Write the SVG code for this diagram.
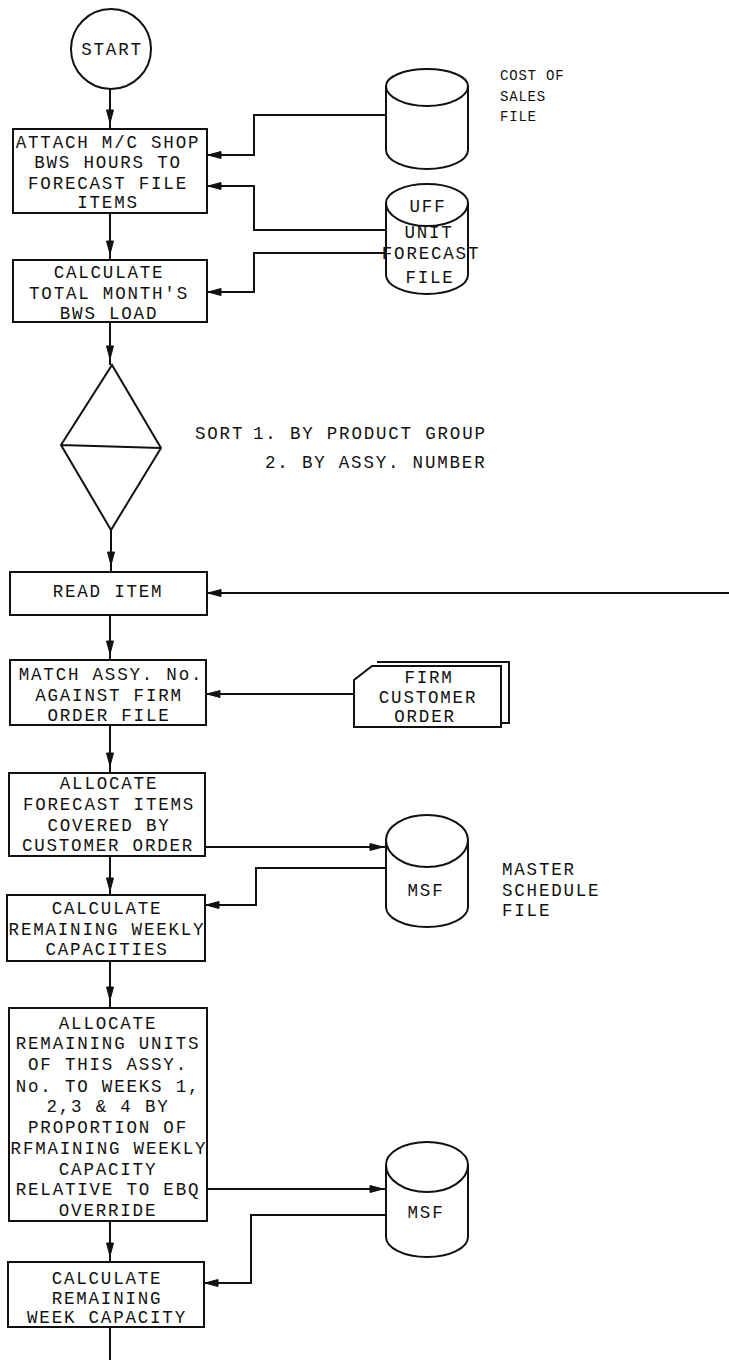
<svg xmlns="http://www.w3.org/2000/svg" width="729" height="1360" viewBox="0 0 729 1360">
<style>
.n{fill:none;stroke:#111;stroke-width:2}
.c{fill:none;stroke:#111;stroke-width:2}
.t{font-family:"Liberation Mono","DejaVu Sans Mono",monospace;font-size:17.5px;letter-spacing:1.8px;fill:#111;text-anchor:middle}
.l{font-family:"Liberation Mono","DejaVu Sans Mono",monospace;font-size:17.5px;letter-spacing:1.8px;fill:#111}
.s{font-family:"Liberation Mono","DejaVu Sans Mono",monospace;font-size:14px;letter-spacing:0.8px;fill:#111}
.a{fill:#111;stroke:#111;stroke-width:1}
</style>
<defs>
<path id="aD" d="M0,0 L-3.5,-13 L3.5,-13 Z"/>
<path id="aL" d="M0,0 L13,-3.5 L13,3.5 Z"/>
<path id="aR" d="M0,0 L-13,-3.5 L-13,3.5 Z"/>
</defs>
<rect width="729" height="1360" fill="#fff"/>

<g id="connectors">
<path class="c" d="M110,89 V129"/>
<path class="c" d="M110,213 V260"/>
<path class="c" d="M110,322 V365"/>
<path class="c" d="M111,530 V572"/>
<path class="c" d="M110,615 V660"/>
<path class="c" d="M110,725 V773"/>
<path class="c" d="M110,856 V895"/>
<path class="c" d="M110,961 V1008"/>
<path class="c" d="M110,1221 V1262"/>
<path class="c" d="M110,1327 V1360"/>
<path class="c" d="M386,115 H254 V155 H207"/>
<path class="c" d="M386,230 H254 V186 H207"/>
<path class="c" d="M386,253 H254 V292 H207"/>
<path class="c" d="M729,593 H207"/>
<path class="c" d="M354,694 H206"/>
<path class="c" d="M205,847 H386"/>
<path class="c" d="M386,868 H256 V905 H205"/>
<path class="c" d="M207,1189 H386"/>
<path class="c" d="M386,1215 H251 V1283 H204"/>
<g class="a">
<use href="#aD" x="110" y="123"/>
<use href="#aD" x="110" y="254"/>
<use href="#aD" x="110" y="359"/>
<use href="#aD" x="111" y="565"/>
<use href="#aD" x="110" y="654"/>
<use href="#aD" x="110" y="766"/>
<use href="#aD" x="110" y="891"/>
<use href="#aD" x="110" y="1000"/>
<use href="#aD" x="110" y="1256"/>
<use href="#aL" x="208" y="155"/>
<use href="#aL" x="208" y="186"/>
<use href="#aL" x="208" y="292"/>
<use href="#aL" x="208" y="593"/>
<use href="#aL" x="207" y="694"/>
<use href="#aR" x="383" y="847"/>
<use href="#aL" x="206" y="905"/>
<use href="#aR" x="383" y="1189"/>
<use href="#aL" x="205" y="1283"/>
</g>
</g>

<g id="start">
<circle class="n" cx="111" cy="49" r="40"/>
<text class="t" x="112" y="55">START</text>
</g>

<g id="attach">
<rect class="n" x="13" y="129" width="194" height="84"/>
<text class="t" x="108" y="148">ATTACH M/C SHOP</text>
<text class="t" x="108" y="168">BWS HOURS TO</text>
<text class="t" x="108" y="189">FORECAST FILE</text>
<text class="t" x="108" y="208">ITEMS</text>
</g>

<g id="calc-load">
<rect class="n" x="13" y="260" width="194" height="62"/>
<text class="t" x="109" y="278">CALCULATE</text>
<text class="t" x="109" y="299">TOTAL MONTH'S</text>
<text class="t" x="109" y="319">BWS LOAD</text>
</g>

<g id="cost-of-sales">
<path class="n" d="M386,86 A41,17 0 0 1 468,86 A41,20 0 0 1 386,86 Z M386,86 V150 A41,19 0 0 0 468,150 V86"/>
<text class="s" x="500" y="80">COST OF</text>
<text class="s" x="500" y="101">SALES</text>
<text class="s" x="500" y="121">FILE</text>
</g>

<g id="uff">
<path class="n" d="M386,203 A41,19 0 0 1 468,203 A41,23 0 0 1 386,203 Z M386,203 V275 A41,19 0 0 0 468,275 V203"/>
<text class="t" x="428" y="212">UFF</text>
<text class="t" x="429" y="238">UNIT</text>
<text class="t" x="431" y="259">FORECAST</text>
<text class="t" x="430" y="283">FILE</text>
</g>

<g id="sort">
<path class="n" d="M112,365 L161,448 L111,530 L61,445 Z M61,445 L161,448" stroke-width="2.5"/>
<text class="l" x="195" y="439">SORT</text>
<text class="l" x="253" y="439">1. BY PRODUCT GROUP</text>
<text class="l" x="265" y="468">2. BY ASSY. NUMBER</text>
</g>

<g id="read-item">
<rect class="n" x="10" y="572" width="197" height="43"/>
<text class="t" x="108" y="597">READ ITEM</text>
</g>

<g id="match">
<rect class="n" x="10" y="660" width="196" height="65"/>
<text class="t" x="111" y="680">MATCH ASSY. No.</text>
<text class="t" x="109" y="701">AGAINST FIRM</text>
<text class="t" x="109" y="721">ORDER FILE</text>
</g>

<g id="firm-order">
<path class="n" d="M377,662 H509 V723 H501"/>
<path class="n" d="M372,666 H501 V727 H354 V680 Z"/>
<text class="t" x="429" y="683">FIRM</text>
<text class="t" x="428" y="703">CUSTOMER</text>
<text class="t" x="425" y="722">ORDER</text>
</g>

<g id="allocate-forecast">
<rect class="n" x="9" y="773" width="196" height="83"/>
<text class="t" x="109" y="789">ALLOCATE</text>
<text class="t" x="109" y="810">FORECAST ITEMS</text>
<text class="t" x="109" y="831">COVERED BY</text>
<text class="t" x="108" y="851">CUSTOMER ORDER</text>
</g>

<g id="msf1">
<path class="n" d="M386,840 A41,25 0 0 1 468,840 A41,27 0 0 1 386,840 Z M386,840 V907 A41,20 0 0 0 468,907 V840"/>
<text class="t" x="426" y="896">MSF</text>
<text class="l" x="502" y="875">MASTER</text>
<text class="l" x="502" y="896">SCHEDULE</text>
<text class="l" x="502" y="916">FILE</text>
</g>

<g id="calc-weekly">
<rect class="n" x="7" y="895" width="198" height="66"/>
<text class="t" x="107" y="914">CALCULATE</text>
<text class="t" x="107" y="935">REMAINING WEEKLY</text>
<text class="t" x="107" y="955">CAPACITIES</text>
</g>

<g id="allocate-remaining">
<rect class="n" x="9" y="1008" width="198" height="213"/>
<text class="t" x="108" y="1029">ALLOCATE</text>
<text class="t" x="108" y="1049">REMAINING UNITS</text>
<text class="t" x="108" y="1070">OF THIS ASSY.</text>
<text class="t" x="108" y="1092">No. TO WEEKS 1,</text>
<text class="t" x="108" y="1112">2,3 &amp; 4 BY</text>
<text class="t" x="108" y="1133">PROPORTION OF</text>
<text class="t" x="109" y="1154">RFMAINING WEEKLY</text>
<text class="t" x="108" y="1175">CAPACITY</text>
<text class="t" x="108" y="1195">RELATIVE TO EBQ</text>
<text class="t" x="108" y="1216">OVERRIDE</text>
</g>

<g id="msf2">
<path class="n" d="M386,1165 A41,23 0 0 1 468,1165 A41,27 0 0 1 386,1165 Z M386,1165 V1237 A41,20 0 0 0 468,1237 V1165"/>
<text class="t" x="426" y="1218">MSF</text>
</g>

<g id="calc-week">
<rect class="n" x="8" y="1262" width="196" height="65"/>
<text class="t" x="107" y="1284">CALCULATE</text>
<text class="t" x="107" y="1304">REMAINING</text>
<text class="t" x="107" y="1323">WEEK CAPACITY</text>
</g>
</svg>
